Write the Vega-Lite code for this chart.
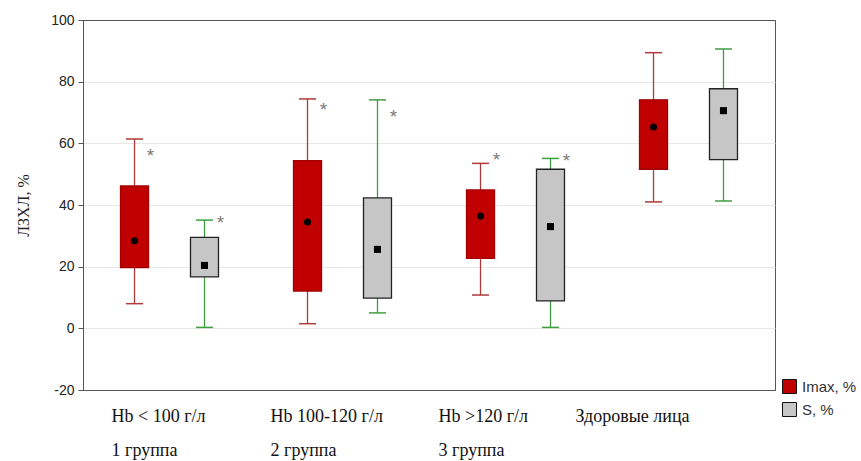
{
  "$schema": "https://vega.github.io/schema/vega-lite/v6.json",
  "width": 692,
  "height": 370,
  "autosize": {"type": "none"},
  "padding": {"left": 83, "top": 20, "right": 86, "bottom": 71},
  "background": "white",
  "config": {
    "view": {"stroke": "#555555", "strokeWidth": 1},
    "axisY": {
      "grid": true, "gridWidth": 1,
      "gridColor": {"condition": {"test": "datum.value === 100 || datum.value === -20", "value": "#555555"}, "value": "#e8e8e8"},
      "domainColor": "#555555", "tickColor": "#555555", "tickSize": 5,
      "labelFont": "Liberation Sans", "labelFontSize": 14, "labelColor": "#222222", "labelPadding": 4,
      "labelExpr": "datum.value + ''",
      "titleFont": "Liberation Serif", "titleFontSize": 16, "titleFontWeight": "normal", "titleColor": "#222222", "titlePadding": 19
    }
  },
  "data": {"values": [
    {"group": "Hb < 100 г/л", "series": "Imax, %", "min": 8.0, "q1": 19.7, "median": 28.4, "q3": 46.2, "max": 61.4, "star": 57.2},
    {"group": "Hb < 100 г/л", "series": "S, %", "min": 0.3, "q1": 16.7, "median": 20.4, "q3": 29.5, "max": 35.1, "star": 35.5},
    {"group": "Hb 100-120 г/л", "series": "Imax, %", "min": 1.5, "q1": 12.1, "median": 34.5, "q3": 54.4, "max": 74.4, "star": 72.2},
    {"group": "Hb 100-120 г/л", "series": "S, %", "min": 5.0, "q1": 9.8, "median": 25.6, "q3": 42.3, "max": 74.1, "star": 69.7},
    {"group": "Hb >120 г/л", "series": "Imax, %", "min": 10.8, "q1": 22.7, "median": 36.4, "q3": 44.9, "max": 53.5, "star": 55.9},
    {"group": "Hb >120 г/л", "series": "S, %", "min": 0.3, "q1": 8.9, "median": 33.0, "q3": 51.6, "max": 55.1, "star": 55.7},
    {"group": "Здоровые лица", "series": "Imax, %", "min": 41.0, "q1": 51.6, "median": 65.3, "q3": 74.1, "max": 89.4, "star": null},
    {"group": "Здоровые лица", "series": "S, %", "min": 41.3, "q1": 54.7, "median": 70.6, "q3": 77.7, "max": 90.6, "star": null}
  ]},
  "encoding": {
    "x": {
      "field": "group", "type": "nominal",
      "sort": ["Hb < 100 г/л", "Hb 100-120 г/л", "Hb >120 г/л", "Здоровые лица"],
      "scale": {"paddingInner": 0, "paddingOuter": 0},
      "axis": {
        "title": null, "domain": false, "ticks": false, "grid": false,
        "labelAngle": 0, "labelAlign": "left", "labelBaseline": "top",
        "labelFont": "Liberation Serif", "labelFontSize": 18, "labelColor": "#111111",
        "labelPadding": 17, "labelLineHeight": 34, "labelLimit": 300,
        "labelOffset": {"expr": "datum.value === 'Hb < 100 г/л' ? -58 : datum.value === 'Hb 100-120 г/л' ? -72 : datum.value === 'Hb >120 г/л' ? -77 : -113"},
        "labelExpr": "datum.value === 'Hb < 100 г/л' ? ['Hb < 100 г/л', '1 группа'] : datum.value === 'Hb 100-120 г/л' ? ['Hb 100-120 г/л', '2 группа'] : datum.value === 'Hb >120 г/л' ? ['Hb >120 г/л', '3 группа'] : datum.label"
      }
    },
    "xOffset": {
      "field": "series", "type": "nominal", "sort": ["Imax, %", "S, %"],
      "scale": {"paddingInner": 0, "paddingOuter": 0.236}
    }
  },
  "layer": [
    {
      "mark": {"type": "rule", "strokeWidth": 1.3},
      "encoding": {
        "y": {"field": "min", "type": "quantitative", "title": "ЛЗХЛ, %", "scale": {"domain": [-20, 100], "nice": false, "zero": false}, "axis": {"values": [-20, 0, 20, 40, 60, 80, 100]}},
        "y2": {"field": "max"},
        "stroke": {"condition": {"test": "datum.series === 'Imax, %'", "value": "#b03a3a"}, "value": "#3f9f3f"}
      }
    },
    {
      "mark": {"type": "tick", "size": 17, "thickness": 1.5, "opacity": 1},
      "encoding": {
        "y": {"field": "min", "type": "quantitative", "title": "ЛЗХЛ, %", "scale": {"domain": [-20, 100], "nice": false, "zero": false}, "axis": {"values": [-20, 0, 20, 40, 60, 80, 100]}},
        "color": {"condition": {"test": "datum.series === 'Imax, %'", "value": "#b03a3a"}, "value": "#3f9f3f"}
      }
    },
    {
      "mark": {"type": "tick", "size": 17, "thickness": 1.5, "opacity": 1},
      "encoding": {
        "y": {"field": "max", "type": "quantitative", "title": "ЛЗХЛ, %", "scale": {"domain": [-20, 100], "nice": false, "zero": false}, "axis": {"values": [-20, 0, 20, 40, 60, 80, 100]}},
        "color": {"condition": {"test": "datum.series === 'Imax, %'", "value": "#b03a3a"}, "value": "#3f9f3f"}
      }
    },
    {
      "mark": {"type": "bar", "width": 28, "strokeWidth": 1.3, "opacity": 1},
      "encoding": {
        "y": {"field": "q3", "type": "quantitative", "title": "ЛЗХЛ, %", "scale": {"domain": [-20, 100], "nice": false, "zero": false}, "axis": {"values": [-20, 0, 20, 40, 60, 80, 100]}},
        "y2": {"field": "q1"},
        "fill": {
          "field": "series", "type": "nominal",
          "scale": {"domain": ["Imax, %", "S, %"], "range": ["#c00000", "#c6c6c6"]},
          "legend": {
            "title": null, "orient": "none", "legendX": 699, "legendY": 359,
            "symbolType": "square", "symbolSize": 196, "symbolStrokeColor": "#111111", "symbolStrokeWidth": 1,
            "labelFont": "Liberation Sans", "labelFontSize": 15, "labelColor": "#333333", "labelOffset": 5,
            "rowPadding": 4, "padding": 0
          }
        },
        "stroke": {"condition": {"test": "datum.series === 'Imax, %'", "value": "#a00000"}, "value": "#222222"}
      }
    },
    {
      "transform": [{"filter": "datum.series === 'Imax, %'"}],
      "mark": {"type": "point", "shape": "circle", "filled": true, "opacity": 1, "color": "#000000", "size": 50},
      "encoding": {
        "y": {"field": "median", "type": "quantitative", "title": "ЛЗХЛ, %", "scale": {"domain": [-20, 100], "nice": false, "zero": false}, "axis": {"values": [-20, 0, 20, 40, 60, 80, 100]}}
      }
    },
    {
      "transform": [{"filter": "datum.series === 'S, %'"}],
      "mark": {"type": "point", "shape": "square", "filled": true, "opacity": 1, "color": "#000000", "size": 50},
      "encoding": {
        "y": {"field": "median", "type": "quantitative", "title": "ЛЗХЛ, %", "scale": {"domain": [-20, 100], "nice": false, "zero": false}, "axis": {"values": [-20, 0, 20, 40, 60, 80, 100]}}
      }
    },
    {
      "transform": [{"filter": "isValid(datum.star)"}],
      "mark": {"type": "text", "text": "*", "dx": 16, "dy": 4, "fontSize": 19, "font": "Liberation Sans", "color": "#7a7a7a", "baseline": "middle", "align": "center"},
      "encoding": {
        "y": {"field": "star", "type": "quantitative", "title": "ЛЗХЛ, %", "scale": {"domain": [-20, 100], "nice": false, "zero": false}, "axis": {"values": [-20, 0, 20, 40, 60, 80, 100]}}
      }
    }
  ]
}
